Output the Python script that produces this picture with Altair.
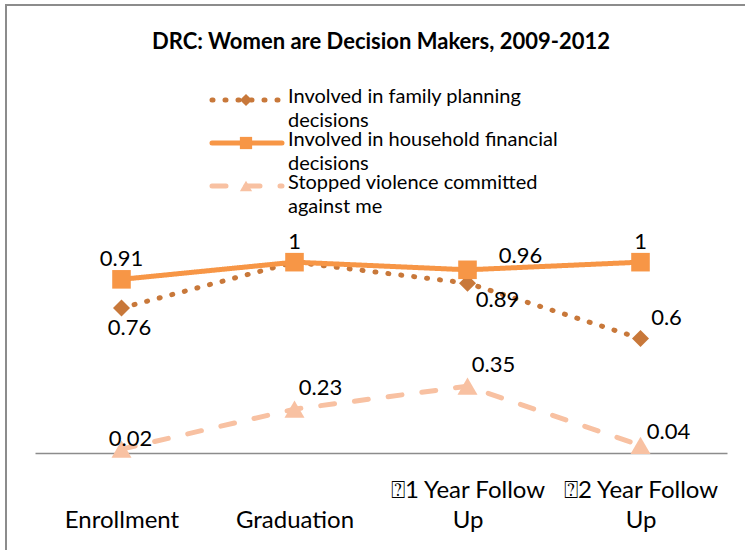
import altair as alt
import pandas as pd

# ---------------- data ----------------
categories = ["Enrollment", "Graduation", "\u23701 Year Follow\nUp", "\u23702 Year Follow\nUp"]
series_names = [
    "Involved in family planning decisions",
    "Involved in household financial decisions",
    "Stopped violence committed against me",
]
legend_labels = [
    "Involved in family planning\ndecisions",
    "Involved in household financial\ndecisions",
    "Stopped violence committed\nagainst me",
]
family_planning = [0.76, 1.0, 0.89, 0.60]
household_financial = [0.91, 1.0, 0.96, 1.0]
stopped_violence = [0.02, 0.23, 0.35, 0.04]

# where each data label sits relative to its marker
family_label_pos = ["below", "none", "downright", "upright"]
household_label_pos = ["above", "above", "upright_far", "above"]
violence_label_pos = ["upsmall", "upright", "upright", "right"]

colors = ["#C8783A", "#F79646", "#F8C1A2"]
dashes = [[1, 12], [1, 0], [14, 20]]
shapes = ["diamond", "square", "triangle-up"]
sizes = [290, 400, 380]

rows = []
for name, vals, pos in [
    (series_names[0], family_planning, family_label_pos),
    (series_names[1], household_financial, household_label_pos),
    (series_names[2], stopped_violence, violence_label_pos),
]:
    for c, v, p in zip(categories, vals, pos):
        rows.append({"series": name, "category": c, "value": v, "placement": p})
df = pd.DataFrame(rows)

legend_df = pd.DataFrame({"series": series_names, "label": legend_labels})

FONT = "Lato"
W, H = 692, 229

x_enc = alt.X(
    "category:N",
    sort=categories,
    scale=alt.Scale(type="point", padding=0.5),
    axis=alt.Axis(
        title=None,
        labelAngle=0,
        ticks=False,
        tickSize=0,
        grid=False,
        domainColor="#8c8c8c",
        domainWidth=1.5,
        labelFont=FONT,
        labelFontSize=24,
        labelColor="#000000",
        labelBaseline="alphabetic",
        labelPadding=44,
        labelLineHeight=30,
        labelExpr="indexof(datum.label, '\\n') >= 0 ? split(datum.label, '\\n') : ['', datum.label]",
    ),
)
y_enc = alt.Y("value:Q", scale=alt.Scale(domain=[0, 1.2], nice=False, zero=True), axis=None)
color_enc = alt.Color("series:N", scale=alt.Scale(domain=series_names, range=colors), legend=None)
dash_enc = alt.StrokeDash("series:N", scale=alt.Scale(domain=series_names, range=dashes), legend=None)
shape_enc = alt.Shape("series:N", scale=alt.Scale(domain=series_names, range=shapes), legend=None)
size_enc = alt.Size("series:N", scale=alt.Scale(domain=series_names, range=sizes), legend=None)

base = alt.Chart(df)

lines = base.mark_line(strokeWidth=5, strokeCap="round", strokeJoin="round").encode(
    x=x_enc, y=y_enc, color=color_enc, strokeDash=dash_enc, detail="series:N"
)
points = base.mark_point(filled=True, opacity=1).encode(
    x=x_enc, y=y_enc, color=color_enc, shape=shape_enc, size=size_enc
)

offsets = {
    "above": (0, -20),
    "below": (8, 20),
    "upright_far": (53, -14),
    "downright": (30, 17),
    "upright": (26, -21),
    "right": (28, -13),
    "upsmall": (9, -10),
}
label_layers = []
for name, (dx, dy) in offsets.items():
    label_layers.append(
        base.transform_filter(alt.datum.placement == name)
        .mark_text(font=FONT, fontSize=22, color="#000000", dx=dx, dy=dy,
                   align="center", baseline="middle")
        .encode(x=x_enc, y=y_enc, text=alt.Text("value:Q", format="~g"))
    )

main = alt.layer(lines, points, *label_layers)

# ---------------- legend (drawn as marks) ----------------
leg_y = alt.Y("series:N", sort=series_names,
              scale=alt.Scale(type="point", domain=series_names, range=[-124, -38], padding=0),
              axis=None)
lbase = alt.Chart(legend_df)
leg_lines = lbase.mark_rule(strokeWidth=5, strokeCap="round").encode(
    x=alt.value(177), x2=alt.value(247), y=leg_y, color=color_enc, strokeDash=dash_enc
)
leg_points = lbase.mark_point(filled=True, opacity=1, size=150).encode(
    x=alt.value(211), y=leg_y, color=color_enc, shape=shape_enc
)
leg_text = lbase.mark_text(font=FONT, fontSize=20, color="#000000", align="left",
                           baseline="top", dy=-13, lineBreak="\n", lineHeight=24).encode(
    x=alt.value(253), y=leg_y, text="label:N"
)
legend = alt.layer(leg_lines, leg_points, leg_text)

# chart-area border (left and top edges visible)
one = alt.Data(values=[{}])
border_left = alt.Chart(one).mark_rule(color="#8c8c8c", strokeWidth=2).encode(
    x=alt.value(-29), y=alt.value(-219), y2=alt.value(330)
)
border_top = alt.Chart(one).mark_rule(color="#8c8c8c", strokeWidth=2).encode(
    x=alt.value(-30), x2=alt.value(720), y=alt.value(-219)
)

chart = (
    alt.layer(border_left, border_top, main, legend)
    .resolve_scale(y="independent")
    .properties(
        width=W,
        height=H,
        background="white",
        autosize=alt.AutoSizeParams(type="none"),
        padding={"left": 35, "top": 224, "right": 18, "bottom": 97},
        title=alt.TitleParams(
            "DRC: Women are Decision Makers, 2009-2012",
            font=FONT, fontSize=22, fontWeight="bold", color="#000000",
            anchor="middle", frame="group", offset=0, dy=50,
        ),
    )
    .configure_view(strokeWidth=0, stroke="transparent")
)

chart.save("out.html", embed_options={"renderer": "svg", "actions": False})
